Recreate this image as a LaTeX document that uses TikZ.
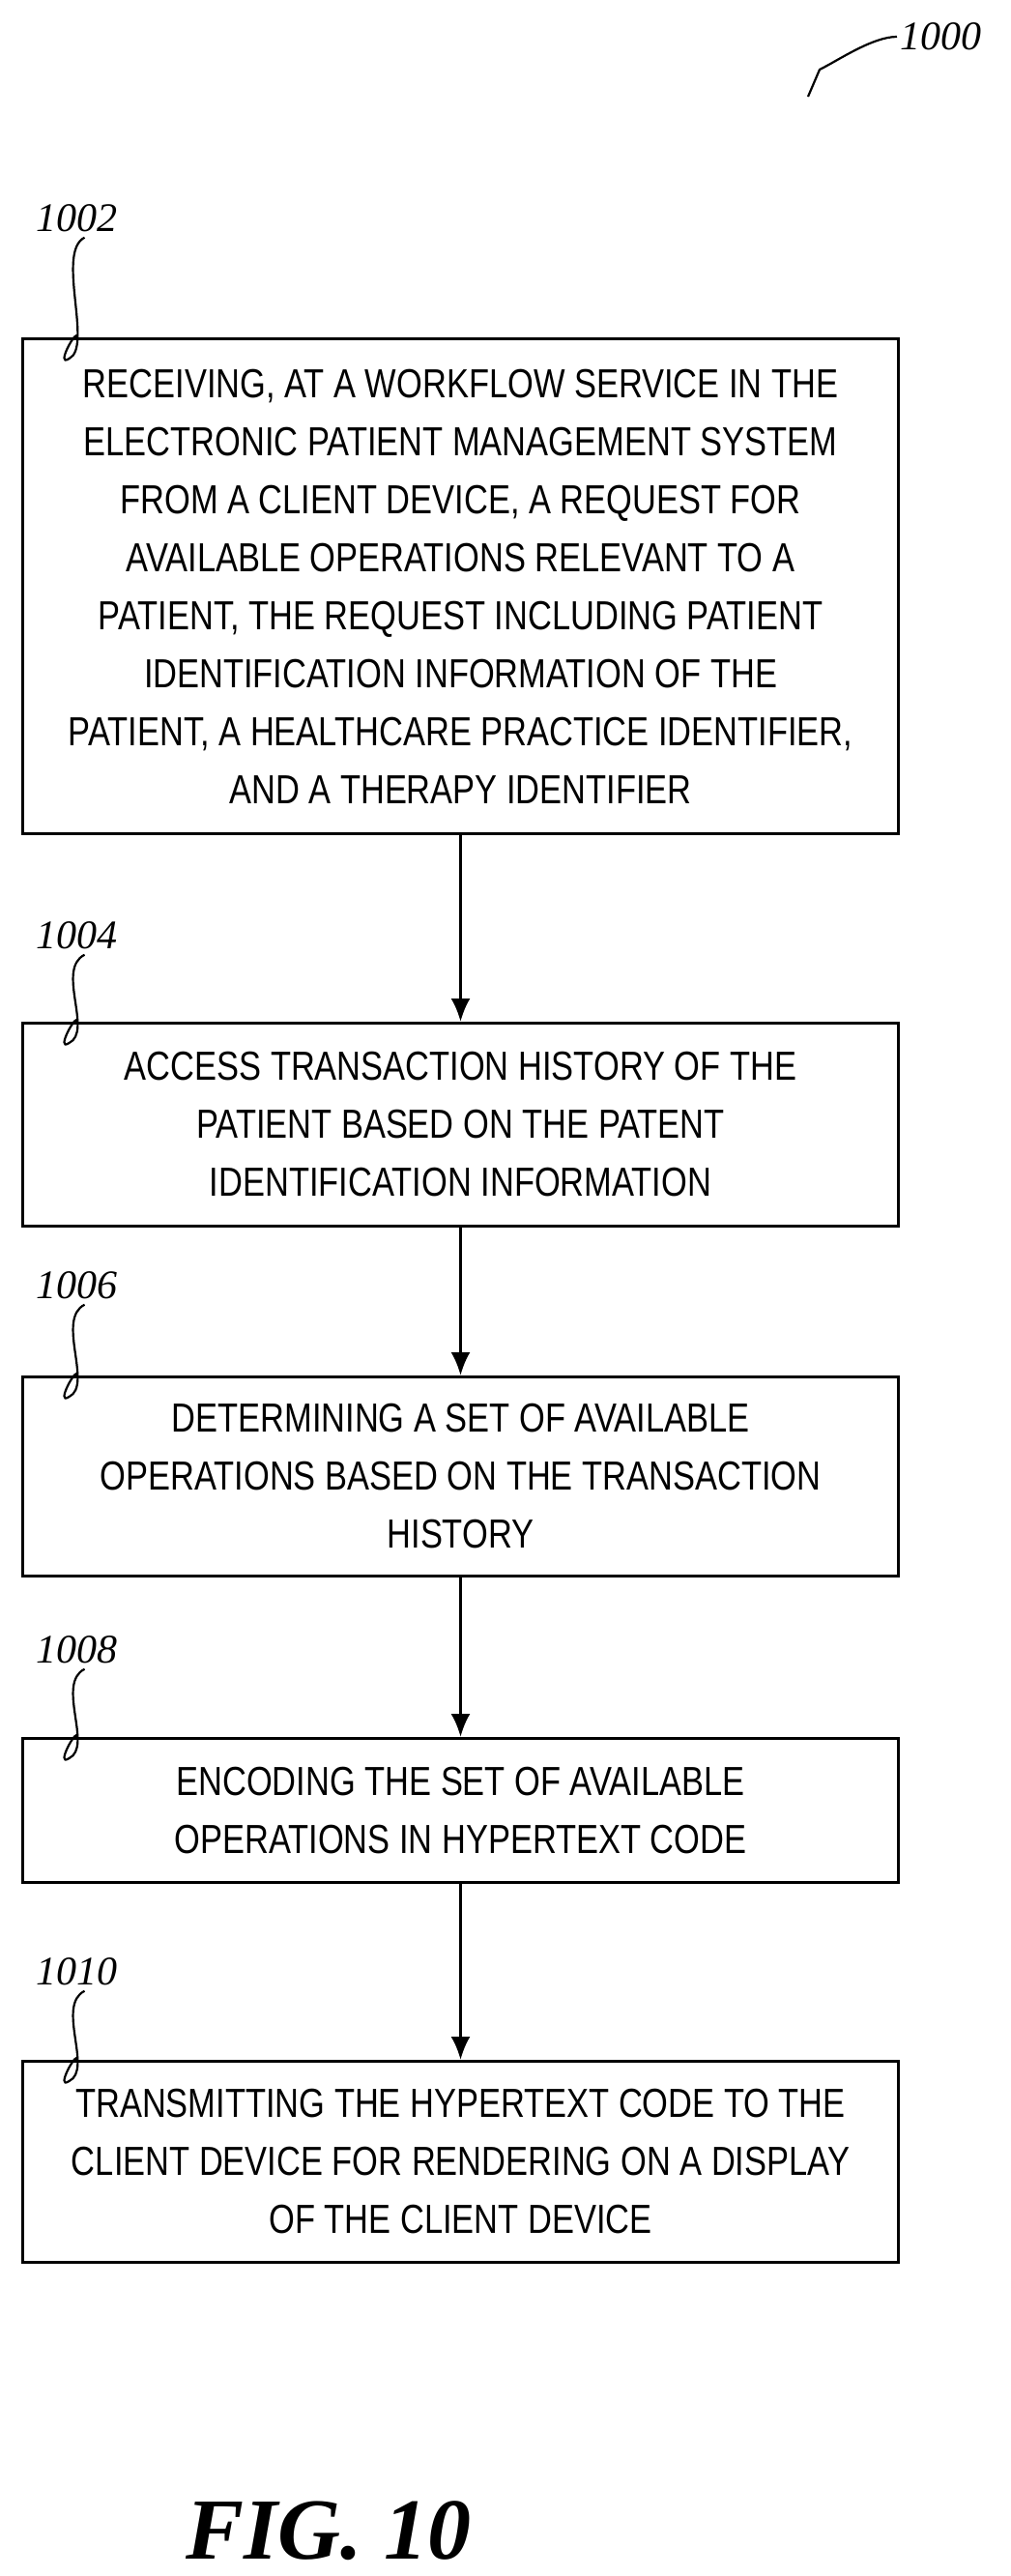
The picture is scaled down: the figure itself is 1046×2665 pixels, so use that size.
\documentclass[tikz,border=0pt]{standalone}
\usepackage{fontspec}
\setmainfont{Liberation Sans}[FakeStretch=0.82]
\newfontfamily\lblfont{Liberation Serif}
\usetikzlibrary{arrows.meta}
\begin{document}
\begin{tikzpicture}[x=1pt,y=-1pt,
  box/.style={draw,line width=3pt,minimum width=906pt,anchor=north west,inner sep=0pt,align=center,
    font=\fontsize{42}{60}\selectfont},
  lbl/.style={font=\lblfont\itshape\fontsize{42}{42}\selectfont,anchor=west},
  conn/.style={line width=3pt,-{Latex[length=24pt,width=20pt]}},
  sq/.style={line width=2.2pt}]
\useasboundingbox (0,0) rectangle (1046,2665);
\node[box,minimum height=512pt] (b1) at (22,349) {RECEIVING, AT A WORKFLOW SERVICE IN THE\\ELECTRONIC PATIENT MANAGEMENT SYSTEM\\FROM A CLIENT DEVICE, A REQUEST FOR\\AVAILABLE OPERATIONS RELEVANT TO A\\PATIENT, THE REQUEST INCLUDING PATIENT\\IDENTIFICATION INFORMATION OF THE\\PATIENT, A HEALTHCARE PRACTICE IDENTIFIER,\\AND A THERAPY IDENTIFIER};
\node[box,minimum height=210pt] (b2) at (22,1057) {ACCESS TRANSACTION HISTORY OF THE\\PATIENT BASED ON THE PATENT\\IDENTIFICATION INFORMATION};
\node[box,minimum height=206pt] (b3) at (22,1423) {DETERMINING A SET OF AVAILABLE\\OPERATIONS BASED ON THE TRANSACTION\\HISTORY};
\node[box,minimum height=149pt] (b4) at (22,1797) {ENCODING THE SET OF AVAILABLE\\OPERATIONS IN HYPERTEXT CODE};
\node[box,minimum height=208pt] (b5) at (22,2131) {TRANSMITTING THE HYPERTEXT CODE TO THE\\CLIENT DEVICE FOR RENDERING ON A DISPLAY\\OF THE CLIENT DEVICE};
\draw[conn] (b1) -- (b2);
\draw[conn] (b2) -- (b3);
\draw[conn] (b3) -- (b4);
\draw[conn] (b4) -- (b5);
\foreach \n/\t/\y in {l1/1002/226, l2/1004/968, l3/1006/1330, l4/1008/1707, l5/1010/2040}{
  \node[lbl] (\n) at (34,\y) {\t};
}
\foreach \n/\b in {l1/b1,l2/b2,l3/b3,l4/b4,l5/b5}{
  \draw[sq] ([xshift=8pt,yshift=-2pt]\n.south) .. controls +(-30,15) and +(25,-12) .. ([xshift=-8pt,yshift=-22pt]\b.north west -| \n.south) .. controls +(-15,10) and +(0,-10) .. (\b.north west -| \n.south);
}
\node[lbl] (l0) at (928,38) {1000};
\draw[sq] (l0.west) .. controls +(-25,0) and +(20,-10) .. (848,72) -- (836,100);
\node[font=\lblfont\bfseries\itshape\fontsize{90}{90}\selectfont] (fig) at (340,2618) {FIG. 10};
\end{tikzpicture}
\end{document}
